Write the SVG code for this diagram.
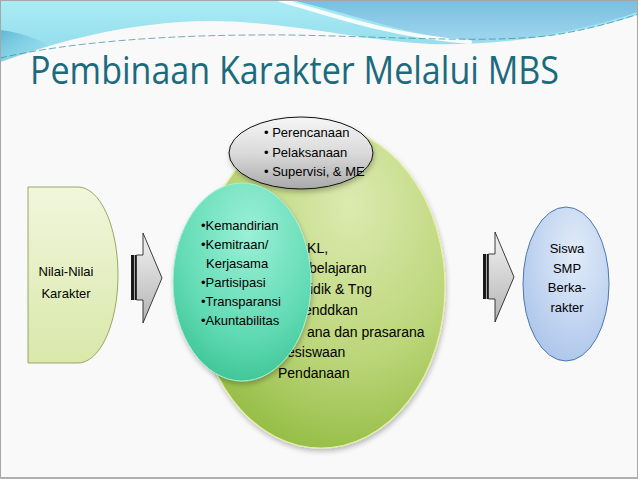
<svg xmlns="http://www.w3.org/2000/svg" width="638" height="479" viewBox="0 0 638 479">
<defs>
<style>
.t{font-family:"Liberation Sans",Arial,sans-serif;fill:#000}
.s13{font-size:13px}
.s14{font-size:14px}
.title{font-family:"Open Sans","Noto Sans",sans-serif;font-size:38px;fill:#1B6A7E}
</style>
<linearGradient id="gCyan" x1="0" y1="0" x2="0" y2="1">
<stop offset="0" stop-color="#A9ECF4"/><stop offset="1" stop-color="#8FD9EA"/>
</linearGradient>
<linearGradient id="gCorner" x1="0" y1="0" x2="1" y2="1">
<stop offset="0" stop-color="#5FB6D2"/><stop offset="1" stop-color="#8FD9EA" stop-opacity="0"/>
</linearGradient>
<linearGradient id="gBlue" x1="0" y1="0" x2="0" y2="1">
<stop offset="0" stop-color="#79BEE0"/><stop offset="1" stop-color="#9FD6EE"/>
</linearGradient>
<linearGradient id="gLeft" x1="0" y1="0" x2="0" y2="1">
<stop offset="0" stop-color="#F1F6DC"/><stop offset="1" stop-color="#D9E8AA"/>
</linearGradient>
<radialGradient id="gGreen" cx="0.62" cy="0.25" r="0.85">
<stop offset="0" stop-color="#DCEAB0"/><stop offset="0.55" stop-color="#BCD67A"/><stop offset="1" stop-color="#8DB83A"/>
</radialGradient>
<linearGradient id="gGray" x1="0" y1="0" x2="0" y2="1">
<stop offset="0" stop-color="#F6F6F6"/><stop offset="0.5" stop-color="#DADADA"/><stop offset="1" stop-color="#A9A9A9"/>
</linearGradient>
<radialGradient id="gTeal" cx="0.55" cy="0.25" r="0.85">
<stop offset="0" stop-color="#9AF0D6"/><stop offset="0.6" stop-color="#62DBB4"/><stop offset="1" stop-color="#34BF8E"/>
</radialGradient>
<radialGradient id="gSky" cx="0.6" cy="0.3" r="0.8">
<stop offset="0" stop-color="#E2ECF9"/><stop offset="1" stop-color="#A9C3EA"/>
</radialGradient>
<linearGradient id="gArrow" x1="0" y1="0" x2="0" y2="1">
<stop offset="0" stop-color="#F2F2F2"/><stop offset="1" stop-color="#B4B4B4"/>
</linearGradient>
<filter id="sh" x="-20%" y="-20%" width="140%" height="140%">
<feDropShadow dx="1" dy="3" stdDeviation="2.5" flood-color="#000" flood-opacity="0.25"/>
</filter>
<g id="arrowShape">
<rect x="131" y="255" width="3.2" height="45" fill="#1A1A1A"/>
<rect x="134.8" y="255" width="1.4" height="45" fill="#1A1A1A"/>
<path d="M136.5,255 H143 V233 L162,278 L143,323 V300 H136.5 Z" fill="url(#gArrow)" stroke="#111" stroke-width="0.8"/>
</g>
</defs>

<rect x="0" y="0" width="638" height="479" fill="#F9F9F9"/>

<g id="header">
<path d="M0,0 H638 V15 C580,34 500,46 430,44 C350,40 270,16 180,22 C110,27 50,44 0,62 Z" fill="url(#gCyan)"/>
<path d="M0,30 C20,32 40,40 50,46 C30,52 12,58 0,62 Z" fill="url(#gCorner)"/>
<path d="M292,0 H638 V12 C585,30 525,41 470,41 C420,38 365,18 292,0 Z" fill="url(#gBlue)"/>
<path d="M280,0 C330,14 390,36 470,42" fill="none" stroke="#FFFFFF" stroke-width="4" stroke-linecap="round" opacity="0.9"/>
<path d="M0,58 C70,42 170,34 290,35 C400,37 500,44 560,34 C595,28 620,20 638,14" fill="none" stroke="#3B8A9C" stroke-width="1" stroke-dasharray="7 3" opacity="0.7"/>
</g>

<text class="title" x="30" y="84" textLength="529" lengthAdjust="spacingAndGlyphs">Pembinaan Karakter Melalui MBS</text>

<g id="connectors">
<use href="#arrowShape"/>
<use href="#arrowShape" transform="translate(352,-1)"/>
</g>

<g id="nilai">
<path d="M28,187 H78 A40,88 0 0 1 78,363 H28 Z" fill="url(#gLeft)" stroke="#8E9E55" stroke-width="0.9"/>
<text class="t s13" x="66" y="276" text-anchor="middle">Nilai-Nilai</text>
<text class="t s13" x="66" y="298" text-anchor="middle">Karakter</text>
</g>

<g id="mbs">
<ellipse cx="321" cy="287" rx="124" ry="161" fill="url(#gGreen)" stroke="#E6F0A0" stroke-width="1.2" filter="url(#sh)"/>
<g class="t s14">
<text x="297" y="253">CKL,</text>
<text x="309" y="273">belajaran</text>
<text x="310" y="294">idik &amp; Tng</text>
<text x="304" y="315">enddkan</text>
<text x="307" y="337">ana dan prasarana</text>
<text x="287" y="357">esiswaan</text>
<text x="278" y="378">Pendanaan</text>
</g>
</g>

<g id="manajemen">
<ellipse cx="301" cy="153" rx="72" ry="36" fill="url(#gGray)" stroke="#111" stroke-width="1" filter="url(#sh)"/>
<g class="t s13">
<text x="264" y="137">• Perencanaan</text>
<text x="264" y="157">• Pelaksanaan</text>
<text x="264" y="176">• Supervisi, &amp; ME</text>
</g>
</g>

<g id="prinsip">
<ellipse cx="242" cy="282" rx="69" ry="99" fill="url(#gTeal)" stroke="#A8F0D4" stroke-width="1" filter="url(#sh)"/>
<g class="t s13">
<text x="201" y="230">•Kemandirian</text>
<text x="201" y="249">•Kemitraan/</text>
<text x="206" y="268">Kerjasama</text>
<text x="201" y="287">•Partisipasi</text>
<text x="201" y="306">•Transparansi</text>
<text x="201" y="325">•Akuntabilitas</text>
</g>
</g>

<g id="siswa">
<ellipse cx="566" cy="284" rx="43" ry="77" fill="url(#gSky)" stroke="#4A78B0" stroke-width="1"/>
<g class="t s13" text-anchor="middle">
<text x="567" y="253">Siswa</text>
<text x="567" y="273">SMP</text>
<text x="567" y="292">Berka-</text>
<text x="567" y="312">rakter</text>
</g>
</g>

<rect x="0.5" y="0.5" width="637" height="478" fill="none" stroke="#A6A6A6" stroke-width="1"/>
<rect x="0" y="477" width="638" height="2" fill="#B0B0B0"/>
</svg>
